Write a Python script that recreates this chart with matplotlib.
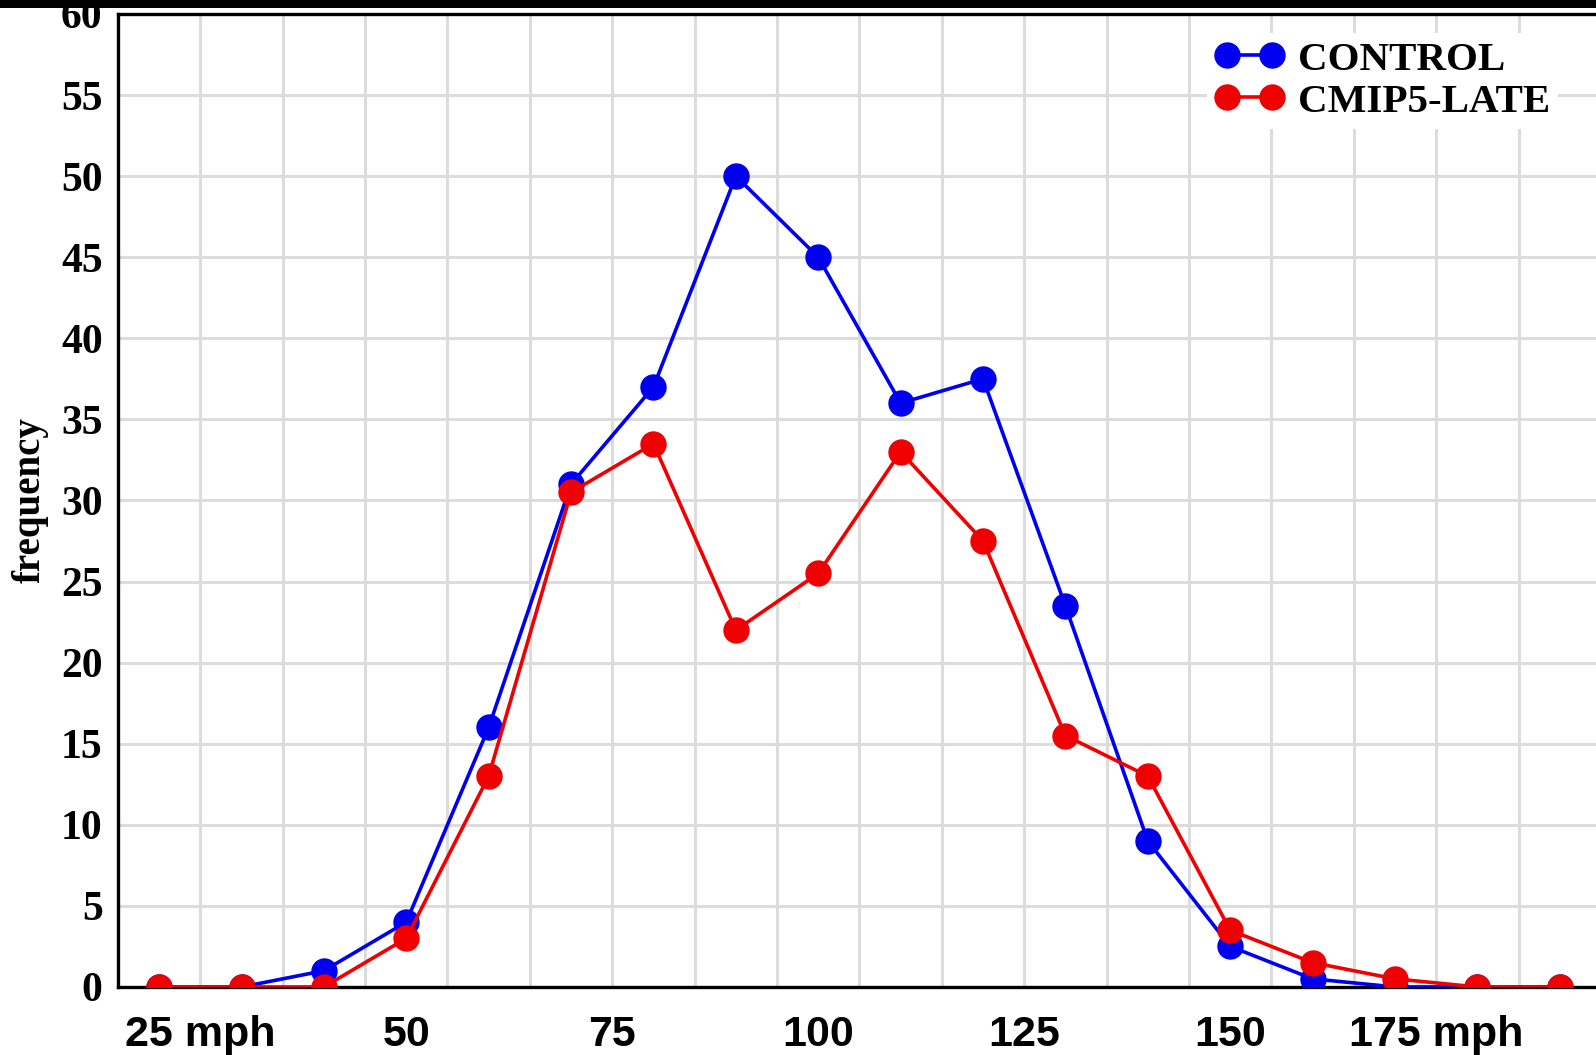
import matplotlib
matplotlib.use("Agg")
import matplotlib.pyplot as plt
from matplotlib.patches import Rectangle

# wind speed bins (mph) and counts
speeds = [20, 30, 40, 50, 60, 70, 80, 90, 100, 110, 120, 130, 140, 150, 160, 170, 180, 190]
control = [0, 0, 1, 4, 16, 31, 37, 50, 45, 36, 37.5, 23.5, 9, 2.5, 0.5, 0, 0, 0]
cmip5_late = [0, 0, 0, 3, 13, 30.5, 33.5, 22, 25.5, 33, 27.5, 15.5, 13, 3.5, 1.5, 0.5, 0, 0]

x_ticks = [25, 50, 75, 100, 125, 150, 175]
x_labels = ["25 mph", "50", "75", "100", "125", "150", "175 mph"]
y_ticks = list(range(0, 61, 5))
grid_x = list(range(25, 195, 10))

fig = plt.figure(figsize=(15.96, 10.55), dpi=100)
ax = fig.add_axes([0.0739, 0.0645, 0.9261, 0.9223])

ax.plot(speeds, control, color="#0000f0", marker="o", markersize=18, linewidth=2.6,
        label="CONTROL", zorder=3)
ax.plot(speeds, cmip5_late, color="#f00000", marker="o", markersize=18, linewidth=2.6,
        label="CMIP5-LATE", zorder=4)

ax.set_xlim(15, 194.4)
ax.set_ylim(0, 60)

# grid: horizontal at y ticks, vertical offset from the labels
for g in grid_x:
    ax.axvline(g, color="#dcdcdc", linewidth=2.2, zorder=0)
for g in y_ticks:
    ax.axhline(g, color="#dcdcdc", linewidth=2.2, zorder=0)

ax.set_xticks(x_ticks)
ax.set_xticklabels(x_labels, fontfamily="Liberation Sans", fontweight="bold", fontsize=31)
ax.set_yticks(y_ticks)
ax.set_yticklabels([str(v) for v in y_ticks], fontfamily="Liberation Serif",
                   fontweight="bold", fontsize=30)
ax.tick_params(axis="x", length=0, pad=20)
ax.tick_params(axis="y", length=0, pad=11)

ax.set_ylabel("frequency", fontfamily="Liberation Serif", fontweight="bold", fontsize=28)
ax.yaxis.set_label_coords(-0.047, 0.5)

for side in ["left", "bottom", "top"]:
    ax.spines[side].set_linewidth(2.4)
    ax.spines[side].set_color("black")
ax.spines["right"].set_visible(False)

leg = ax.legend(loc="upper left", bbox_to_anchor=(0.756, 0.9688),
                bbox_transform=fig.transFigure, borderaxespad=0, numpoints=2,
                handlelength=1.7, handletextpad=0.32, labelspacing=0.1, borderpad=0.2,
                frameon=True, fancybox=False, framealpha=1, edgecolor="none",
                prop={"family": "Liberation Serif", "weight": "bold", "size": 29.5})

# black strip along the top edge
fig.add_artist(Rectangle((0, 1 - 8 / 1055), 1, 8 / 1055, transform=fig.transFigure,
                         facecolor="black", edgecolor="none", zorder=10))

fig.savefig("out.png", dpi=100)
